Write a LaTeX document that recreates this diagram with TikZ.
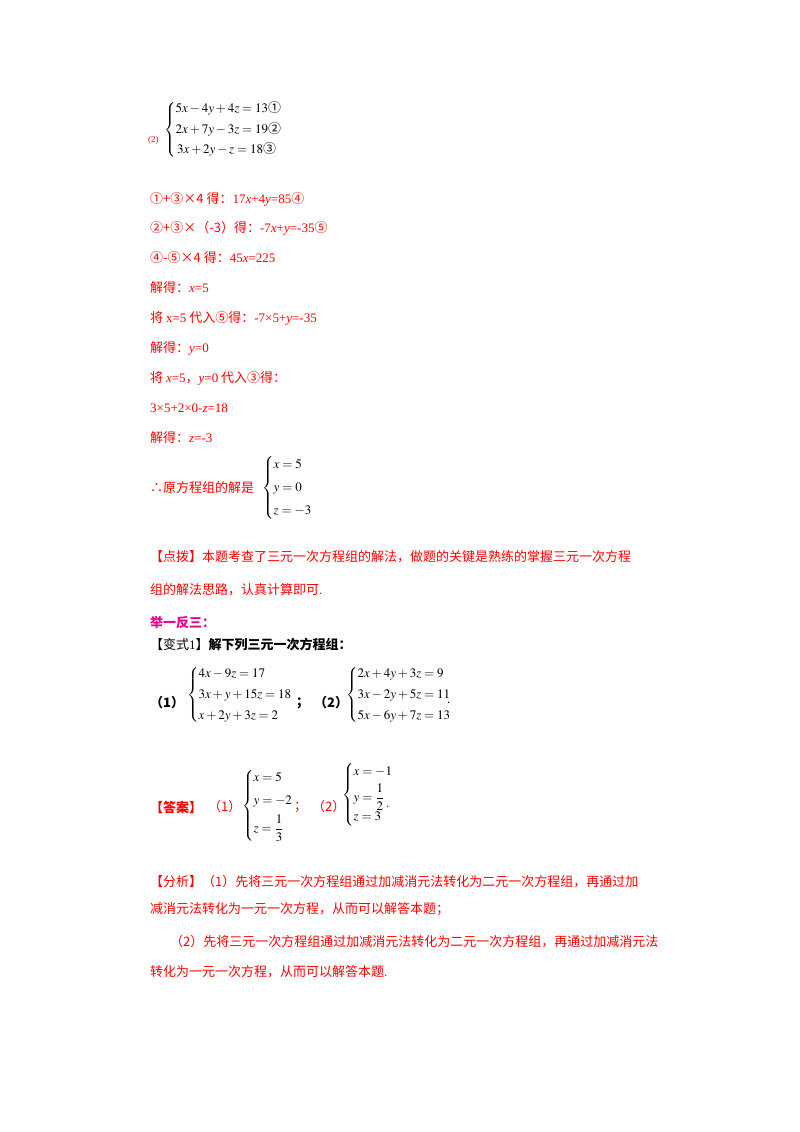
\documentclass[tikz,border=0pt]{standalone}
\usepackage{amsmath}
\usepackage{mathptmx}
\usepackage{fontspec}
\setmainfont{Liberation Serif}
\newfontfamily\cjk{Noto Sans CJK SC}
\newcommand{\zh}[1]{{\cjk #1}}
\begin{document}
\begin{tikzpicture}[x=1pt,y=-1pt,
  t/.style={anchor=west,inner sep=0pt,font=\fontsize{13}{15}\selectfont},
  r/.style={t,text=red},
  k/.style={t,text=black},
  m/.style={anchor=west,inner sep=0pt,font=\fontsize{13}{15}\selectfont}]
\useasboundingbox (0,0) rectangle (800,1132);
\fill[white] (0,0) rectangle (800,1132);
% system (2)
\node[r,font=\fontsize{9}{10}\selectfont] (p2) at (148,140) {(2)};
\node[m] (s1) at (164,130) {$\left\{\begin{array}{@{}l@{}}5x-4y+4z=13\text{\zh{①}}\\[5pt]2x+7y-3z=19\text{\zh{②}}\\[5pt]\,3x+2y-z=18\text{\zh{③}}\end{array}\right.$};
\node[r] (l1) at (150,199) {\zh{①+③×4 得：}17\textit{x}+4\textit{y}=85\zh{④}};
\node[r] (l2) at (150,228) {\zh{②+③×（-3）得：}-7\textit{x}+\textit{y}=-35\zh{⑤}};
\node[r] (l3) at (150,258) {\zh{④-⑤×4 得：}45\textit{x}=225};
\node[r] (l4) at (150,288) {\zh{解得：}\textit{x}=5};
\node[r] (l5) at (150,318) {\zh{将 }x=5\zh{ 代入⑤得：}-7×5+\textit{y}=-35};
\node[r] (l6) at (150,348) {\zh{解得：}\textit{y}=0};
\node[r] (l7) at (150,378) {\zh{将 }\textit{x}=5\zh{，}\textit{y}=0\zh{ 代入③得：}};
\node[r] (l8) at (150,408) {3×5+2×0-\textit{z}=18};
\node[r] (l9) at (150,438) {\zh{解得：}\textit{z}=-3};
\node[r] (l10) at (150,488) {\zh{∴原方程组的解是}};
\node[m] (sol) at (262,488) {$\left\{\begin{array}{@{}l@{}}x=5\\[8pt]y=0\\[8pt]z=-3\end{array}\right.$};
\node[r] (d1) at (150,557) {\zh{【点拨】本题考查了三元一次方程组的解法，做题的关键是熟练的掌握三元一次方程}};
\node[r] (d2) at (150,590) {\zh{组的解法思路，认真计算即可}.};
\node[t,text=magenta] (j) at (150,623) {\zh{\bfseries 举一反三：}};
\node[k] (v) at (150,645) {\zh{【变式}1\zh{】}\zh{\bfseries 解下列三元一次方程组：}};
\node[k] (q1) at (150,703) {\zh{\bfseries（1）}};
\node[m] (e1) at (187,695) {$\left\{\begin{array}{@{}l@{}}4x-9z=17\\[6pt]3x+y+15z=18\\[6pt]x+2y+3z=2\end{array}\right.$};
\node[k] (sc) at (296,703) {\zh{\bfseries ；}};
\node[k] (q2) at (314,703) {\zh{\bfseries（2）}};
\node[m] (e2) at (346,695) {$\left\{\begin{array}{@{}l@{}}2x+4y+3z=9\\[6pt]3x-2y+5z=11\\[6pt]5x-6y+7z=13\end{array}\right.$};
\node[k] (dot) at (447,703) {.};
\node[r] (a) at (150,807) {\zh{\bfseries 【答案】}};
\node[r] (a1) at (208,807) {\zh{（1）}};
\node[m] (as1) at (242,806) {$\left\{\begin{array}{@{}l@{}}x=5\\[8pt]y=-2\\[6pt]z=\dfrac{1}{3}\end{array}\right.$};
\node[r] (a2s) at (294,807) {\zh{；}};
\node[r] (a2) at (312,807) {\zh{（2）}};
\node[m] (as2) at (342,795) {$\left\{\begin{array}{@{}l@{}}x=-1\\[4pt]y=\dfrac{1}{2}\\[4pt]z=3\end{array}\right.$};
\node[r] (ad) at (386,807) {.};
\node[r] (f1) at (150,882) {\zh{【分析】（1）先将三元一次方程组通过加减消元法转化为二元一次方程组，再通过加}};
\node[r] (f2) at (150,909) {\zh{减消元法转化为一元一次方程，从而可以解答本题；}};
\node[r] (f3) at (170,942) {\zh{（2）先将三元一次方程组通过加减消元法转化为二元一次方程组，再通过加减消元法}};
\node[r] (f4) at (150,972) {\zh{转化为一元一次方程，从而可以解答本题}.};
\end{tikzpicture}
\end{document}
